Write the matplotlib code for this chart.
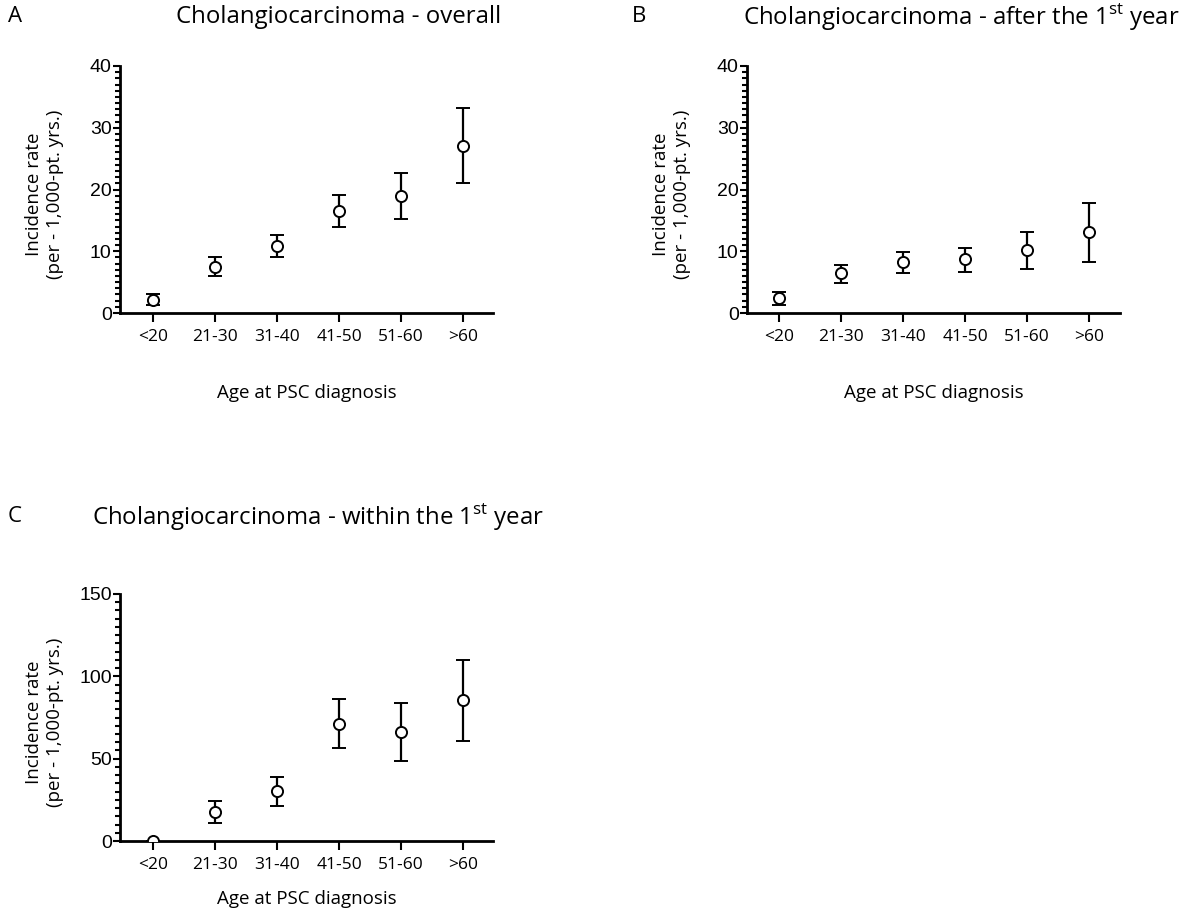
import matplotlib
matplotlib.use("Agg")
import matplotlib.pyplot as plt
from matplotlib.ticker import MultipleLocator

plt.rcParams['font.family'] = ['Open Sans', 'DejaVu Sans']
plt.rcParams['mathtext.fontset'] = 'custom'
plt.rcParams['mathtext.rm'] = 'Open Sans'

# data
age_groups = ["<20", "21-30", "31-40", "41-50", "51-60", ">60"]

overall_rate = [2.15, 7.5, 10.9, 16.5, 18.9, 27.1]
overall_low = [1.3, 6.0, 9.0, 14.0, 15.2, 21.0]
overall_high = [3.05, 9.1, 12.6, 19.1, 22.6, 33.2]

after_rate = [2.4, 6.4, 8.3, 8.7, 10.2, 13.1]
after_low = [1.3, 4.8, 6.5, 6.6, 7.2, 8.3]
after_high = [3.4, 7.8, 9.9, 10.5, 13.1, 17.8]

within_rate = [0.0, 17.8, 30.1, 71.3, 66.4, 85.4]
within_low = [0.0, 10.7, 21.2, 56.7, 48.7, 61.0]
within_high = [0.0, 24.4, 39.0, 86.2, 84.0, 110.0]

W, H = 1182, 919
fig = plt.figure(figsize=(W / 100, H / 100), dpi=100)


def px_axes(left, right, top, bottom):
    return fig.add_axes([left / W, 1 - bottom / H, (right - left) / W, (bottom - top) / H])


def panel(ax, rate, low, high, ymax, major, minor, xlim, xpad):
    x = list(range(len(age_groups)))
    err = [[r - l for r, l in zip(rate, low)], [h - r for r, h in zip(rate, high)]]
    ax.errorbar(x, rate, yerr=err, fmt='o', mfc='white', mec='black', ms=8, mew=1.4,
                ecolor='black', elinewidth=1.6, capsize=4.8, capthick=1.6, zorder=3)
    ax.set_xlim(*xlim)
    ax.set_ylim(0, ymax)
    ax.set_xticks(x)
    ax.set_xticklabels(age_groups, fontsize=12.5)
    ax.yaxis.set_major_locator(MultipleLocator(major))
    ax.yaxis.set_minor_locator(MultipleLocator(minor))
    for lab in ax.get_yticklabels():
        lab.set_family('Liberation Sans')
        lab.set_fontsize(14)
    for s in ['top', 'right']:
        ax.spines[s].set_visible(False)
    for s in ['left', 'bottom']:
        ax.spines[s].set_linewidth(2)
    ax.tick_params(axis='y', which='major', direction='out', length=5, width=1.5, pad=1)
    ax.tick_params(axis='y', which='minor', direction='out', length=3.5, width=1.5)
    ax.tick_params(axis='x', which='major', direction='out', length=6.5, width=1.5, pad=5)
    ax.set_ylabel("Incidence rate\n(per - 1,000-pt. yrs.)", fontsize=13.5, linespacing=1.2)
    ax.yaxis.set_label_coords(-0.15, 0.48)
    ax.set_xlabel("Age at PSC diagnosis", fontsize=13.5, labelpad=xpad)
    ax.patch.set_alpha(0)


axA = px_axes(120, 493, 66, 313)
panel(axA, overall_rate, overall_low, overall_high, 40, 10, 1, (-0.53, 5.48), 28)
axB = px_axes(747, 1120, 66, 313)
panel(axB, after_rate, after_low, after_high, 40, 10, 1, (-0.52, 5.5), 28)
axC = px_axes(120, 493, 594, 841)
panel(axC, within_rate, within_low, within_high, 150, 50, 5, (-0.53, 5.48), 12)

fig.text(8 / W, 1 - 17 / H, "A", fontsize=16, va='center', ha='left')
fig.text(176 / W, 1 - 17 / H, "Cholangiocarcinoma - overall", fontsize=17.3, va='center', ha='left')
fig.text(632 / W, 1 - 17 / H, "B", fontsize=16, va='center', ha='left')
fig.text(743 / W, 1 - 17 / H, "Cholangiocarcinoma - after the 1$^{\\mathrm{st}}$ year",
         fontsize=17.3, va='center', ha='left')
fig.text(8 / W, 1 - 516 / H, "C", fontsize=16, va='center', ha='left')
fig.text(92 / W, 1 - 516 / H, "Cholangiocarcinoma - within the 1$^{\\mathrm{st}}$ year",
         fontsize=17.3, va='center', ha='left')

fig.savefig("out.png", dpi=100)
